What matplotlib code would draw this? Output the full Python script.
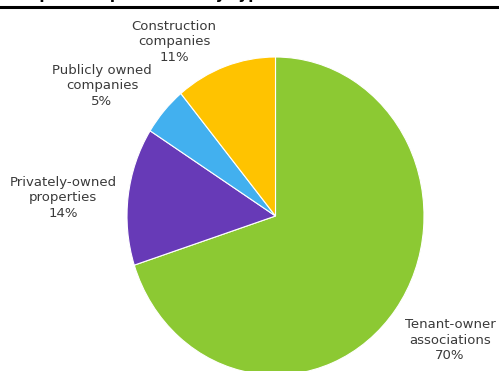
import matplotlib.pyplot as plt
from matplotlib.lines import Line2D

# Datos del gráfico
categorias = ["Tenant-owner\nassociations", "Privately-owned\nproperties",
              "Publicly owned\ncompanies", "Construction\ncompanies"]
valores = [70, 14, 5, 11]
colores = ["#8CC933", "#673AB7", "#42B0EF", "#FFC300"]
titulo = "Completed apartments by type"

fig = plt.figure(figsize=(4.99, 3.71), dpi=100)

# Eje del pastel (ligeramente estirado en vertical, como el original)
ax = fig.add_axes([127 / 499, 1 - 57 / 371 - 318 / 371, 297 / 499, 318 / 371])
ax.pie(valores, colors=colores, startangle=90, counterclock=False,
       wedgeprops=dict(edgecolor="white", linewidth=0.8))
ax.set_aspect("auto")
ax.set_xlim(-1, 1)
ax.set_ylim(-1, 1)
ax.axis("off")

# Etiquetas: nombre y porcentaje
posiciones = [(450, 340), (63, 198), (102, 86), (174, 42)]
for cat, val, (px, py) in zip(categorias, valores, posiciones):
    fig.text(px / 499, 1 - py / 371, f"{cat}\n{val}%", ha="center", va="center",
             multialignment="center", fontsize=9.5, color="#3a3a3a",
             linespacing=1.25)

# Título (cortado por el borde superior, como en el original) y línea superior
fig.text(0.005, 1 + 1.5 / 371, titulo, ha="left", va="baseline",
         fontsize=11, fontweight="bold", color="black")
fig.add_artist(Line2D([0, 1], [1 - 6.5 / 371] * 2, transform=fig.transFigure,
                      color="black", linewidth=2.2))

fig.savefig("out.png", dpi=100)
